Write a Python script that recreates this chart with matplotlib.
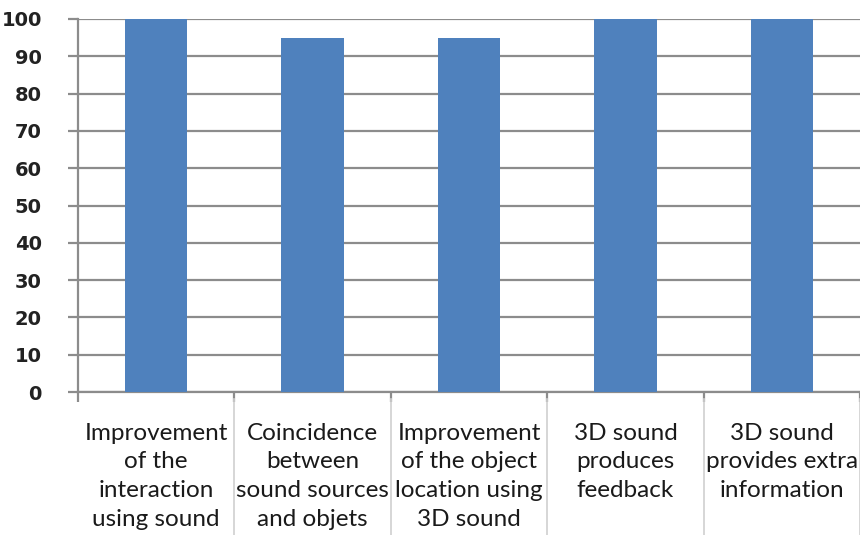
import matplotlib.pyplot as plt
import matplotlib.transforms as mtransforms

# -------- data --------
categories = [
    'Improvement\nof the\ninteraction\nusing sound',
    'Coincidence\nbetween\nsound sources\nand objets',
    'Improvement\nof the object\nlocation using\n3D sound',
    '3D sound\nproduces\nfeedback',
    '3D sound\nprovides extra\ninformation',
]
values = [100, 95, 95, 100, 100]
y_ticks = list(range(0, 101, 10))

BAR_COLOR = '#4F81BD'
GRID_COLOR = '#8C8C8C'
SEP_COLOR = '#D0D0D0'

W, H = 860, 535
fig = plt.figure(figsize=(W / 100, H / 100), dpi=100)
ax = fig.add_axes([78 / W, 1 - 392 / H, (860 - 78) / W, (392 - 19) / H])

x = list(range(len(categories)))
ax.bar(x, values, width=0.4, color=BAR_COLOR, zorder=3)

ax.set_xlim(-0.5, len(categories) - 0.5)
ax.set_ylim(0, 100)
ax.set_yticks(y_ticks)
ax.set_yticklabels([str(v) for v in y_ticks], fontsize=14, fontweight='bold',
                   family='DejaVu Sans', color='#222222')
ax.yaxis.grid(True, color=GRID_COLOR, linewidth=1.6, zorder=0)
ax.tick_params(axis='y', length=7, width=1.6, color=GRID_COLOR, pad=19)

# category ticks at boundaries
bounds = [i - 0.5 for i in range(len(categories) + 1)]
ax.set_xticks(bounds)
ax.set_xticklabels([])
ax.tick_params(axis='x', length=7, width=1.6, color=GRID_COLOR)

for sp in ['top', 'right']:
    ax.spines[sp].set_visible(False)
for sp in ['left', 'bottom']:
    ax.spines[sp].set_color(GRID_COLOR)
    ax.spines[sp].set_linewidth(1.6)

# separators below axis and labels
trans = mtransforms.blended_transform_factory(ax.transData, ax.transAxes)
for b in bounds[1:]:
    ax.plot([b, b], [-0.02, -0.4], color=SEP_COLOR, linewidth=1.2,
            transform=trans, clip_on=False)

for xi, lab in zip(x, categories):
    ax.text(xi, -0.082, lab, transform=trans, ha='center', va='top',
            fontsize=17.5, family='Lato', linespacing=1.45, color='#1a1a1a')

fig.savefig('out.png', dpi=100)
